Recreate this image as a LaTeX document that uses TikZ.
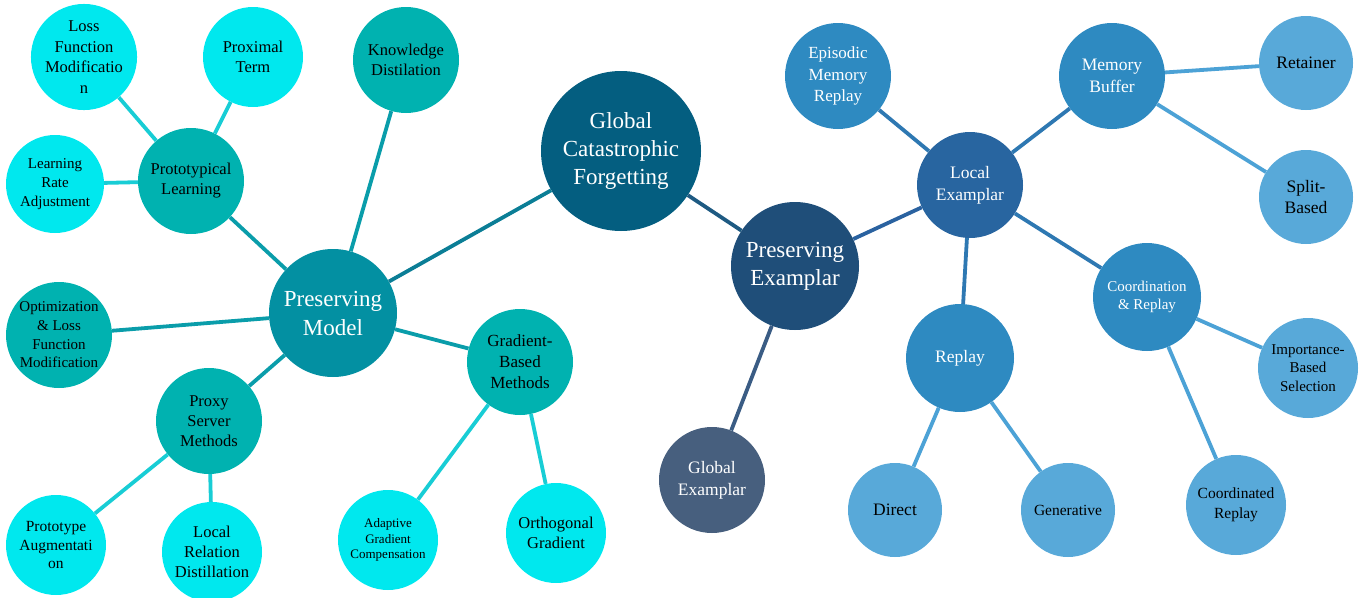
\documentclass[tikz,border=0pt]{standalone}
\usepackage{fontspec}
\setmainfont{Liberation Serif}
\definecolor{cGCF}{HTML}{045E80}
\definecolor{cPM}{HTML}{0390A2}
\definecolor{cPE}{HTML}{1F4E79}
\definecolor{cTeal}{HTML}{00B2B0}
\definecolor{cCyan}{HTML}{00E8EE}
\definecolor{cLE}{HTML}{2865A0}
\definecolor{cMid}{HTML}{2E8AC1}
\definecolor{cLight}{HTML}{58A9D9}
\definecolor{cGE}{HTML}{475F7E}
\definecolor{eGP}{HTML}{0B7E96}
\definecolor{eGE}{HTML}{1E5A82}
\definecolor{ePM}{HTML}{0A9DAA}
\definecolor{eCy}{HTML}{18CDD5}
\definecolor{ePE}{HTML}{2A62A0}
\definecolor{ePG}{HTML}{3A5C84}
\definecolor{eLE}{HTML}{2E78B2}
\definecolor{eLt}{HTML}{4CA2D6}
\tikzset{
  bub/.style={circle, inner sep=0pt, align=center, minimum size=2*#1pt},
  fs/.style 2 args={font=\fontsize{#1}{#2}\selectfont},
  edge/.style={line width=3.8pt},
}
\begin{document}
\begin{tikzpicture}[x=1pt,y=-1pt]
\useasboundingbox (0,0) rectangle (1368,597);
% nodes
\node[bub=80, fill=cGCF, text=white, fs={23}{28}] (gcf) at (621,151) {Global\\Catastrophic\\Forgetting};
\node[bub=64, fill=cPM, text=white, fs={23}{29}] (pm) at (333,313) {Preserving\\Model};
\node[bub=64, fill=cPE, text=white, fs={23}{28}] (pe) at (795,266) {Preserving\\Examplar};
\node[bub=53, fill=cTeal, fs={16.5}{20}] (pl) at (191,181) {Prototypical\\Learning};
\node[bub=53, fill=cCyan, fs={16.5}{20.5}] (lfm) at (84,57) {Loss\\Function\\Modificatio\\n};
\node[bub=50, fill=cCyan, fs={16.5}{20}] (pt) at (253,57) {Proximal\\Term};
\node[bub=53, fill=cTeal, fs={16.5}{20}] (kd) at (406,60) {Knowledge\\Distilation};
\node[bub=49, fill=cCyan, fs={15}{19}] (lra) at (55,184) {Learning\\Rate\\Adjustment};
\node[bub=53, fill=cTeal, fs={15}{18.6}] (olf) at (59,335) {Optimization\\\&~Loss\\Function\\Modification};
\node[bub=53, fill=cTeal, fs={16.5}{20.3}] (psm) at (209,421) {Proxy\\Server\\Methods};
\node[bub=53, fill=cTeal, fs={17}{21}] (gbm) at (520,362) {Gradient-\\Based\\Methods};
\node[bub=50, fill=cCyan, fs={15.5}{18.7}] (pa) at (56,545) {Prototype\\Augmentati\\on};
\node[bub=50, fill=cCyan, fs={16.5}{20}] (lrd) at (212,552) {Local\\Relation\\Distillation};
\node[bub=50, fill=cCyan, fs={13}{15.5}] (agc) at (388,540) {Adaptive\\Gradient\\Compensation};
\node[bub=50, fill=cCyan, fs={16.5}{19.5}] (og) at (556,533) {Orthogonal\\Gradient};
\node[bub=53, fill=cLE, text=white, fs={17.5}{22}] (le) at (970,185) {Local\\Examplar};
\node[bub=53, fill=cMid, text=white, fs={17}{21.7}] (emr) at (838,76) {Episodic\\Memory\\Replay};
\node[bub=53, fill=cMid, text=white, fs={17.5}{22.3}] (mb) at (1112,76) {Memory\\Buffer};
\node[bub=47, fill=cLight, fs={17.5}{22}] (ret) at (1306,63) {Retainer};
\node[bub=47, fill=cLight, fs={17.5}{21.7}] (sb) at (1306,197) {Split-\\Based};
\node[bub=54, fill=cMid, text=white, fs={17.5}{22}] (rep) at (960,358) {Replay};
\node[bub=54, fill=cMid, text=white, fs={15}{18.3}] (cr) at (1147,297) {Coordination\\\&~Replay};
\node[bub=50, fill=cLight, fs={15}{18.3}] (ibs) at (1308,368) {Importance-\\Based\\Selection};
\node[bub=50, fill=cLight, fs={15.5}{19.7}] (cor) at (1236,505) {Coordinated\\Replay};
\node[bub=47, fill=cLight, fs={17.5}{22}] (dir) at (895,510) {Direct};
\node[bub=47, fill=cLight, fs={15.5}{19}] (gen) at (1068,510) {Generative};
\node[bub=53, fill=cGE, text=white, fs={17.5}{22.3}] (ge) at (712,480) {Global\\Examplar};
% edges
\draw[edge, eGP] (gcf) -- (pm);
\draw[edge, eGE] (gcf) -- (pe);
\draw[edge, ePM] (pm) -- (pl);
\draw[edge, ePM] (pm) -- (kd);
\draw[edge, ePM] (pm) -- (olf);
\draw[edge, ePM] (pm) -- (psm);
\draw[edge, ePM] (pm) -- (gbm);
\draw[edge, eCy] (pl) -- (lfm);
\draw[edge, eCy] (pl) -- (pt);
\draw[edge, eCy] (pl) -- (lra);
\draw[edge, eCy] (psm) -- (pa);
\draw[edge, eCy] (psm) -- (lrd);
\draw[edge, eCy] (gbm) -- (agc);
\draw[edge, eCy] (gbm) -- (og);
\draw[edge, ePE] (pe) -- (le);
\draw[edge, ePG] (pe) -- (ge);
\draw[edge, eLE] (le) -- (emr);
\draw[edge, eLE] (le) -- (mb);
\draw[edge, eLE] (le) -- (rep);
\draw[edge, eLE] (le) -- (cr);
\draw[edge, eLt] (mb) -- (ret);
\draw[edge, eLt] (mb) -- (sb);
\draw[edge, eLt] (rep) -- (dir);
\draw[edge, eLt] (rep) -- (gen);
\draw[edge, eLt] (cr) -- (ibs);
\draw[edge, eLt] (cr) -- (cor);
\end{tikzpicture}
\end{document}
